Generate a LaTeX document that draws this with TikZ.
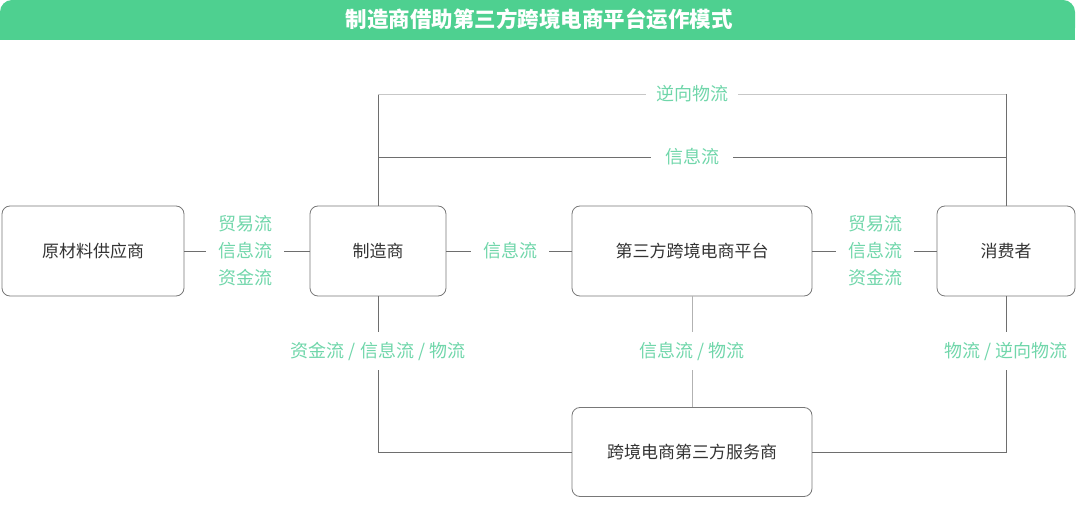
\documentclass[tikz,border=0pt]{standalone}
\usepackage{fontspec}
\setmainfont{Noto Sans CJK SC}
\usetikzlibrary{calc, positioning}
\definecolor{hdrgreen}{RGB}{78,208,144}
\definecolor{flowgreen}{RGB}{112,214,170}
\definecolor{boxgray}{RGB}{120,120,120}
\definecolor{linegray}{RGB}{110,110,110}

\begin{document}
\begin{tikzpicture}[x=1pt, y=-1pt,
	party/.style={draw=boxgray, rounded corners=8pt, minimum height=90pt, text=black!80, font=\fontsize{17}{20}\selectfont, line width=0.8pt},
	flow/.style={text=flowgreen, font=\fontsize{18}{27}\selectfont, align=center, inner xsep=12pt, inner ysep=10pt},
	link/.style={draw=linegray, line width=0.8pt},
	faint/.style={draw=black!22, line width=0.8pt}]
	\useasboundingbox (0,0) rectangle (1080,505);
	\fill[hdrgreen, rounded corners=12pt] (0,0) rectangle (1075,40);
	\fill[hdrgreen] (0,20) rectangle (1075,40);
	\node[text=white, font=\bfseries\fontsize{21.5}{24}\selectfont] (title) at (539,19) {制造商借助第三方跨境电商平台运作模式};
	\node[party, minimum width=182pt] (raw) at (93,251) {原材料供应商};
	\node[party, minimum width=136pt] (maker) at (378,251) {制造商};
	\node[party, minimum width=240pt] (plat) at (692,251) {第三方跨境电商平台};
	\node[party, minimum width=138pt] (cons) at (1006,251) {消费者};
	\node[party, minimum width=240pt, minimum height=89pt] (svc) at (692,452) {跨境电商第三方服务商};
	\node[flow] (f1) at (245,251) {贸易流\\信息流\\资金流};
	\node[flow] (f2) at (510,251) {信息流};
	\node[flow] (f3) at (875,251) {贸易流\\信息流\\资金流};
	\node[flow, inner xsep=10pt] (rev) at (692,94) {逆向物流};
	\node[flow, inner xsep=14pt] (info) at (692,157) {信息流};
	\node[flow] (b1) at (378,351) {资金流 / 信息流 / 物流};
	\node[flow] (b2) at (692,351) {信息流 / 物流};
	\node[flow] (b3) at (1006,351) {物流 / 逆向物流};
	\draw[link] (raw) -- (f1);
	\draw[link] (f1) -- (maker);
	\draw[link] (maker) -- (f2);
	\draw[link] (f2) -- (plat);
	\draw[link] (plat) -- (f3);
	\draw[link] (f3) -- (cons);
	\draw[link] (maker.north) |- (info.west);
	\draw[link] (info.east) -| (cons.north);
	\draw[link] (maker.north) -- (maker.north |- rev.west);
	\draw[faint] (maker.north |- rev.west) -- (rev.west);
	\draw[faint] (rev.east) -- (cons.north |- rev.east);
	\draw[link] (cons.north |- rev.east) -- (cons.north);
	\draw[link] (maker.south) -- (b1.north);
	\draw[link] (b1.south) |- (svc.west);
	\draw[link, draw=black!30] (plat.south) -- (b2.north);
	\draw[link, draw=black!30] (b2.south) -- (svc.north);
	\draw[link] (cons.south) -- (b3.north);
	\draw[link] (b3.south) |- (svc.east);
\end{tikzpicture}
\end{document}
